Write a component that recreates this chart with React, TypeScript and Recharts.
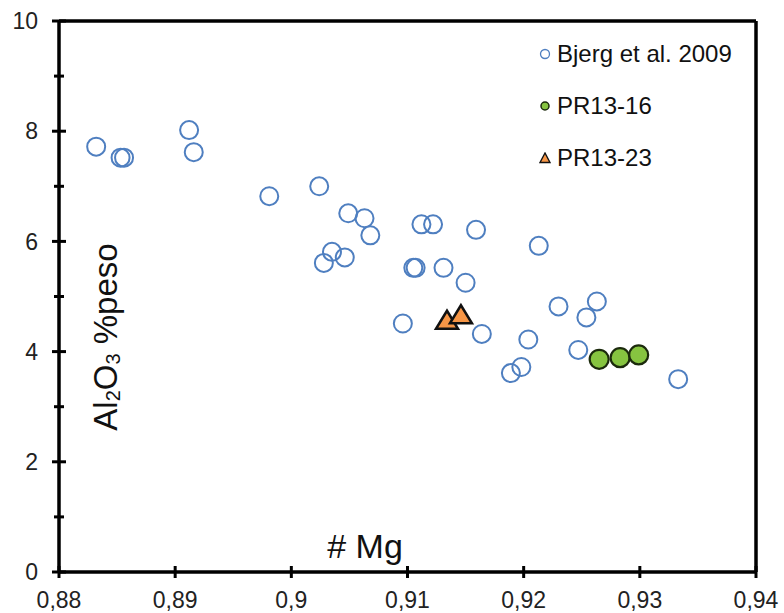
import React from "react";
import {
  Legend,
  ReferenceLine,
  Scatter,
  ScatterChart,
  XAxis,
  YAxis
} from "recharts";

// # Mg vs Al2O3 (% peso)
const BJERG_MG = [
  0.8832, 0.8853, 0.8856, 0.8912, 0.8916, 0.8981, 0.9024, 0.9049, 0.9063, 0.9068,
  0.9035, 0.9028, 0.9046, 0.9112, 0.9122, 0.9159, 0.9105, 0.9107, 0.9131, 0.915,
  0.9213, 0.9096, 0.9164, 0.9204, 0.9189, 0.9198, 0.923, 0.9254, 0.9263, 0.9247,
  0.9333
];
const BJERG_AL = [
  7.72, 7.52, 7.52, 8.02, 7.62, 6.82, 7.0, 6.51, 6.42, 6.11,
  5.81, 5.61, 5.71, 6.31, 6.31, 6.21, 5.52, 5.52, 5.52, 5.25,
  5.92, 4.51, 4.32, 4.22, 3.61, 3.72, 4.82, 4.62, 4.91, 4.03,
  3.5
];
const PR1316_MG = [0.9265, 0.9283, 0.9299];
const PR1316_AL = [3.86, 3.89, 3.94];
const PR1323_MG = [0.9134, 0.9146];
const PR1323_AL = [4.56, 4.66];

const X_TICKS = [0.88, 0.89, 0.9, 0.91, 0.92, 0.93, 0.94];
const Y_TICKS = [0, 1, 2, 3, 4, 5, 6, 7, 8, 9, 10];

const FONT = "'Liberation Sans', Arial, sans-serif";
const BLUE = "#4F7FC0";
const GREEN = "#86C440";
const ORANGE = "#F79646";
const AXIS_W = 3.5;

const toPoints = (xs: number[], ys: number[]) => xs.map((x, i) => ({ x, y: ys[i] }));

const bjerg = toPoints(BJERG_MG, BJERG_AL);
const pr1316 = toPoints(PR1316_MG, PR1316_AL);
const pr1323 = toPoints(PR1323_MG, PR1323_AL);

const fmtX = (v: number) => String(Number(v.toFixed(2))).replace(".", ",");

function YTick(props: any) {
  const { x, y, payload } = props;
  const major = payload.value % 2 === 0;
  const len = major ? 7 : 5;
  return (
    <g>
      <line x1={x - len} x2={x + len} y1={y} y2={y} stroke="#000" strokeWidth={3} />
      {major && (
        <text x={x - 21} y={y} dy="0.36em" textAnchor="end" fontSize={23} fontFamily={FONT} fill="#222">
          {payload.value}
        </text>
      )}
    </g>
  );
}

function XTick(props: any) {
  const { x, y, payload } = props;
  return (
    <g>
      <line x1={x} x2={x} y1={y - 6} y2={y + 6} stroke="#000" strokeWidth={3} />
      <text x={x} y={y + 36} textAnchor="middle" fontSize={23} fontFamily={FONT} fill="#222">
        {fmtX(payload.value)}
      </text>
    </g>
  );
}

const openCircle = (p: any) => (
  <circle cx={p.cx} cy={p.cy} r={9} fill="none" stroke={BLUE} strokeWidth={2} />
);
const greenCircle = (p: any) => (
  <circle cx={p.cx} cy={p.cy} r={9.5} fill={GREEN} stroke="#1B2A0C" strokeWidth={2.2} />
);
const triangle = (p: any) => (
  <polygon
    points={`${p.cx},${p.cy - 10} ${p.cx - 11},${p.cy + 8} ${p.cx + 11},${p.cy + 8}`}
    fill={ORANGE}
    stroke="#111"
    strokeWidth={2.5}
    strokeLinejoin="miter"
  />
);

const LEGEND_ROWS = [
  { name: "Bjerg et al. 2009", icon: <circle cx={6} cy={6} r={4.5} fill="none" stroke={BLUE} strokeWidth={1.3} /> },
  { name: "PR13-16", icon: <circle cx={6} cy={6} r={4} fill={GREEN} stroke="#1B2A0C" strokeWidth={1.5} /> },
  { name: "PR13-23", icon: <polygon points="6,1 1,10.5 11,10.5" fill={ORANGE} stroke="#111" strokeWidth={1.4} /> }
];

function LegendBox() {
  return (
    <div style={{ fontFamily: FONT, fontSize: 24, color: "#111" }}>
      {LEGEND_ROWS.map(r => (
        <div key={r.name} style={{ display: "flex", alignItems: "center", height: 52 }}>
          <svg width={12} height={12} style={{ marginRight: 6 }}>{r.icon}</svg>
          <span>{r.name}</span>
        </div>
      ))}
    </div>
  );
}

function YLabel() {
  const x = 117;
  const y = 337;
  return (
    <text x={x} y={y} transform={`rotate(-90, ${x}, ${y})`} textAnchor="middle" fontSize={33} fontFamily={FONT} fill="#111">
      Al<tspan fontSize={20} dy={3}>2</tspan>
      <tspan dy={-3}>O</tspan>
      <tspan fontSize={20} dy={3}>3</tspan>
      <tspan dy={-3}> %peso</tspan>
    </text>
  );
}

function XLabel(props: any) {
  const { viewBox } = props;
  return (
    <text x={365} y={viewBox.y - 14} textAnchor="middle" fontSize={34} fontFamily={FONT} fill="#111">
      # Mg
    </text>
  );
}

export default function App() {
  return (
    <div style={{ position: "absolute", left: 0, top: 0, background: "#fff" }}>
      <ScatterChart width={784} height={613} margin={{ top: 21, right: 28, bottom: 0, left: 0 }}>
        <XAxis
          type="number"
          dataKey="x"
          domain={[0.88, 0.94]}
          ticks={X_TICKS}
          allowDataOverflow
          height={41}
          tickSize={0}
          tickMargin={0}
          tickLine={false}
          axisLine={{ stroke: "#000", strokeWidth: AXIS_W }}
          tick={<XTick />}
          label={{ content: <XLabel /> }}
        />
        <YAxis
          type="number"
          dataKey="y"
          domain={[0, 10]}
          ticks={Y_TICKS}
          interval={0}
          allowDataOverflow
          width={59}
          tickSize={0}
          tickMargin={0}
          tickLine={false}
          axisLine={{ stroke: "#000", strokeWidth: AXIS_W }}
          tick={<YTick />}
          label={{ content: <YLabel /> }}
        />
        <ReferenceLine y={10} stroke="#000" strokeWidth={AXIS_W} />
        <ReferenceLine x={0.94} stroke="#000" strokeWidth={AXIS_W} />
        <Legend
          layout="vertical"
          align="center"
          verticalAlign="middle"
          content={<LegendBox />}
          wrapperStyle={{ top: 28, left: 539, width: 230, height: 160 }}
        />
        <Scatter name="Bjerg et al. 2009" data={bjerg} shape={openCircle} isAnimationActive={false} />
        <Scatter name="PR13-16" data={pr1316} shape={greenCircle} isAnimationActive={false} />
        <Scatter name="PR13-23" data={pr1323} shape={triangle} isAnimationActive={false} />
      </ScatterChart>
    </div>
  );
}
